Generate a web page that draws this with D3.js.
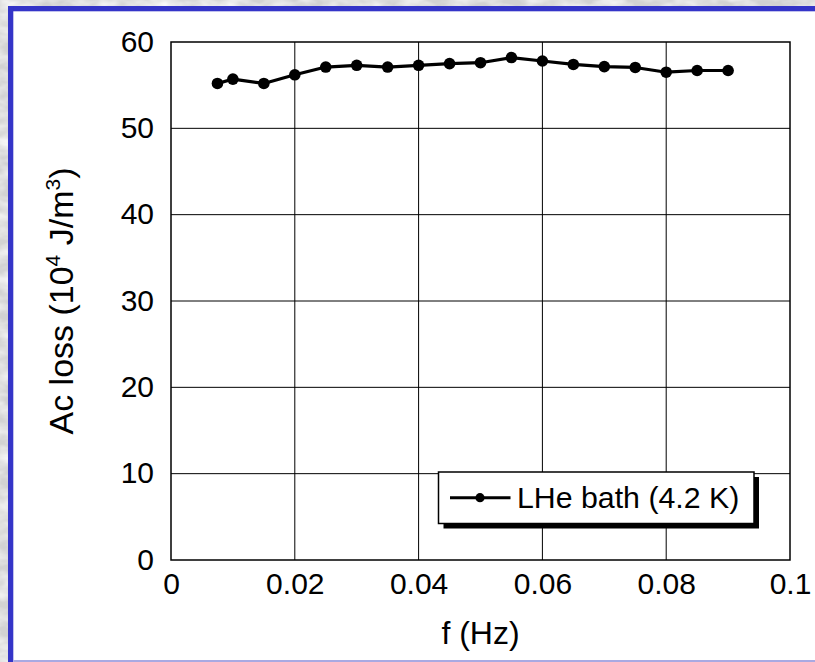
<!DOCTYPE html>
<html>
<head>
<meta charset="utf-8">
<script src="https://cdn.jsdelivr.net/npm/d3@7"></script>
<style>
  html, body { margin: 0; padding: 0; background: #fff; }
  svg { display: block; }
  text { font-family: "Liberation Sans", Arial, Helvetica, sans-serif; fill: #000; }
</style>
</head>
<body>
<svg id="chart" width="815" height="662"></svg>
<script>
// AC loss measured in the liquid-helium bath versus sweep frequency
const frequency = [0.0075, 0.01, 0.015, 0.02, 0.025, 0.03, 0.035, 0.04, 0.045,
                   0.05, 0.055, 0.06, 0.065, 0.07, 0.075, 0.08, 0.085, 0.09];
const acLoss = [55.2, 55.7, 55.2, 56.2, 57.1, 57.3, 57.1, 57.3, 57.5,
                57.6, 58.2, 57.8, 57.4, 57.15, 57.05, 56.5, 56.7, 56.7];
const xTicks = [0, 0.02, 0.04, 0.06, 0.08, 0.1];
const xTickLabels = ["0", "0.02", "0.04", "0.06", "0.08", "0.1"];
const yTicks = [0, 10, 20, 30, 40, 50, 60];
const seriesName = "LHe bath (4.2 K)";

const svg = d3.select("#chart");
const W = 815, H = 662;

// slide background with a faint marbled texture
const defs = svg.append("defs");
const f = defs.append("filter").attr("id", "marble")
  .attr("x", 0).attr("y", 0).attr("width", "100%").attr("height", "100%");
f.append("feTurbulence").attr("type", "fractalNoise")
  .attr("baseFrequency", "0.04 0.08").attr("numOctaves", 3).attr("seed", 4);
f.append("feColorMatrix").attr("type", "matrix")
  .attr("values", "0 0 0 0 0.97  0 0 0 0 0.97  0 0 0 0 0.97  0 0 0 -1.6 1.1");
svg.append("rect").attr("width", W).attr("height", H).attr("fill", "#d2d2d2");
svg.append("rect").attr("width", W).attr("height", H).attr("filter", "url(#marble)");

// framed white panel
svg.append("rect").attr("x", 8).attr("y", 6).attr("width", W - 8).attr("height", H - 6)
  .attr("fill", "#ffffff");
svg.append("rect").attr("x", 8).attr("y", 6).attr("width", W - 8).attr("height", 5.3)
  .attr("fill", "#3434c8");
svg.append("rect").attr("x", 8).attr("y", 6).attr("width", 5.3).attr("height", H - 6)
  .attr("fill", "#3434c8");
svg.append("rect").attr("x", 13.3).attr("y", 660).attr("width", W - 13.3).attr("height", 2)
  .attr("fill", "#a9a9e2");

// plot area
const m = { left: 171, top: 42, right: 790, bottom: 560 };
const x = d3.scaleLinear().domain([0, 0.1]).range([m.left, m.right]);
const y = d3.scaleLinear().domain([0, 60]).range([m.bottom, m.top]);

const g = svg.append("g");

// gridlines
g.append("g").selectAll("line").data(xTicks.slice(1, -1)).join("line")
  .attr("x1", d => x(d)).attr("x2", d => x(d))
  .attr("y1", m.top).attr("y2", m.bottom)
  .attr("stroke", "#000").attr("stroke-width", 1);
g.append("g").selectAll("line").data(yTicks.slice(1, -1)).join("line")
  .attr("y1", d => y(d)).attr("y2", d => y(d))
  .attr("x1", m.left).attr("x2", m.right)
  .attr("stroke", "#000").attr("stroke-width", 1);

// plot border
g.append("rect").attr("x", m.left).attr("y", m.top)
  .attr("width", m.right - m.left).attr("height", m.bottom - m.top)
  .attr("fill", "none").attr("stroke", "#000").attr("stroke-width", 1.5);

// axes (labels only; frame drawn above)
const xAxis = d3.axisBottom(x).tickValues(xTicks)
  .tickFormat((d, i) => xTickLabels[i]).tickSize(0).tickPadding(0);
const xa = g.append("g").attr("transform", `translate(0,${m.bottom})`).call(xAxis);
xa.select(".domain").remove();
xa.selectAll("text").attr("font-size", 30).attr("y", 34).attr("dy", 0)
  .attr("font-family", "Liberation Sans, Arial, sans-serif").attr("fill", "#000");

const yAxis = d3.axisLeft(y).tickValues(yTicks).tickFormat(d3.format("d"))
  .tickSize(0).tickPadding(0);
const ya = g.append("g").attr("transform", `translate(${m.left},0)`).call(yAxis);
ya.select(".domain").remove();
ya.selectAll("text").attr("font-size", 30).attr("x", -17).attr("dy", "0.3em")
  .attr("font-family", "Liberation Sans, Arial, sans-serif").attr("fill", "#000");

// axis titles
svg.append("text").attr("x", (m.left + m.right) / 2).attr("y", 644)
  .attr("text-anchor", "middle").attr("font-size", 32).text("f (Hz)");

const yt = svg.append("text")
  .attr("transform", `translate(73,${(m.top + m.bottom) / 2}) rotate(-90)`)
  .attr("text-anchor", "middle").attr("font-size", 34);
yt.append("tspan").text("Ac loss (10");
yt.append("tspan").attr("font-size", 21).attr("dy", -13).text("4");
yt.append("tspan").attr("dy", 13).text(" J/m");
yt.append("tspan").attr("font-size", 21).attr("dy", -13).text("3");
yt.append("tspan").attr("dy", 13).text(")");

// data series
const pts = frequency.map((d, i) => [d, acLoss[i]]);
g.append("path").datum(pts)
  .attr("fill", "none").attr("stroke", "#000").attr("stroke-width", 3.2)
  .attr("stroke-linejoin", "round")
  .attr("d", d3.line().x(d => x(d[0])).y(d => y(d[1])));
g.append("g").selectAll("circle").data(pts).join("circle")
  .attr("cx", d => x(d[0])).attr("cy", d => y(d[1])).attr("r", 5.8).attr("fill", "#000");

// legend with drop shadow
const lg = svg.append("g").attr("transform", "translate(438.5,472)");
const lw = 315.5, lh = 51.5;
lg.append("rect").attr("x", 5).attr("y", 5).attr("width", lw).attr("height", lh).attr("fill", "#000");
lg.append("rect").attr("width", lw).attr("height", lh)
  .attr("fill", "#fff").attr("stroke", "#000").attr("stroke-width", 1.5);
lg.append("line").attr("x1", 11.5).attr("x2", 72).attr("y1", 25.7).attr("y2", 25.7)
  .attr("stroke", "#000").attr("stroke-width", 3);
lg.append("circle").attr("cx", 41.5).attr("cy", 25.7).attr("r", 4.6).attr("fill", "#000");
lg.append("text").attr("x", 78.5).attr("y", 25.7).attr("dy", "0.35em")
  .attr("font-size", 30.3).text(seriesName);
</script>
</body>
</html>
